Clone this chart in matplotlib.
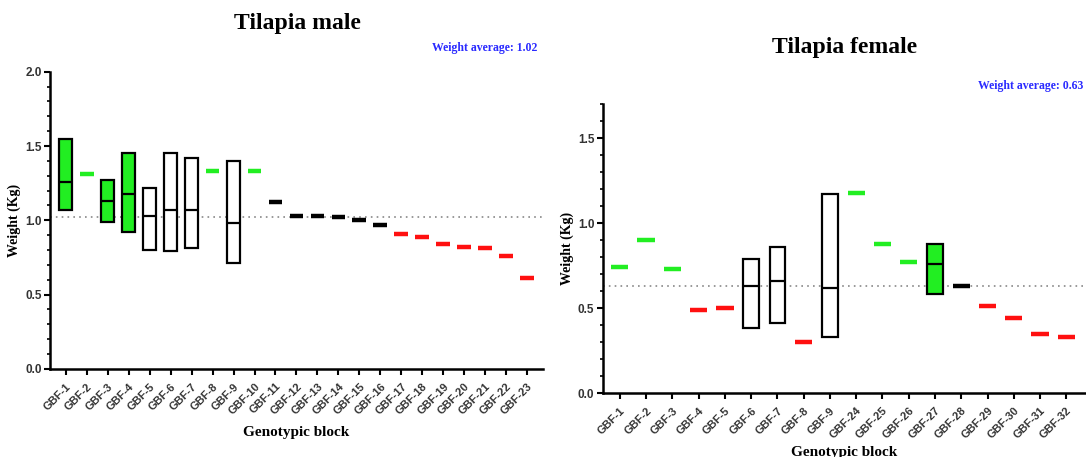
import matplotlib
matplotlib.use("Agg")
import matplotlib.pyplot as plt
from matplotlib.ticker import MultipleLocator

# ---- data ----
male_labels = ["GBF-1", "GBF-2", "GBF-3", "GBF-4", "GBF-5", "GBF-6", "GBF-7", "GBF-8",
               "GBF-9", "GBF-10", "GBF-11", "GBF-12", "GBF-13", "GBF-14", "GBF-15",
               "GBF-16", "GBF-17", "GBF-18", "GBF-19", "GBF-20", "GBF-21", "GBF-22", "GBF-23"]
male_mid = [1.26, 1.31, 1.13, 1.18, 1.03, 1.07, 1.07, 1.33, 0.98, 1.33, 1.12, 1.03,
            1.03, 1.02, 1.00, 0.97, 0.91, 0.89, 0.84, 0.82, 0.81, 0.76, 0.61]
male_low = [1.07, None, 0.99, 0.92, 0.80, 0.79, 0.81, None, 0.71] + [None] * 14
male_high = [1.55, None, 1.27, 1.45, 1.22, 1.45, 1.42, None, 1.40] + [None] * 14
male_group = ["g", "g", "g", "g", "w", "w", "w", "g", "w", "g",
              "k", "k", "k", "k", "k", "k",
              "r", "r", "r", "r", "r", "r", "r"]
male_avg = 1.02

female_labels = ["GBF-1", "GBF-2", "GBF-3", "GBF-4", "GBF-5", "GBF-6", "GBF-7", "GBF-8",
                 "GBF-9", "GBF-24", "GBF-25", "GBF-26", "GBF-27", "GBF-28", "GBF-29",
                 "GBF-30", "GBF-31", "GBF-32"]
female_mid = [0.74, 0.90, 0.73, 0.49, 0.50, 0.63, 0.66, 0.30, 0.62,
              1.18, 0.88, 0.77, 0.76, 0.63, 0.51, 0.44, 0.35, 0.33]
female_low = [None, None, None, None, None, 0.38, 0.41, None, 0.33,
              None, None, None, 0.58, None, None, None, None, None]
female_high = [None, None, None, None, None, 0.79, 0.86, None, 1.17,
               None, None, None, 0.88, None, None, None, None, None]
female_group = ["g", "g", "g", "r", "r", "w", "w", "r", "w",
                "g", "g", "g", "g", "k", "r", "r", "r", "r"]
female_avg = 0.63

colors = {"g": "#22ee22", "r": "#ff1010", "k": "#000000", "w": "white"}
serif = ["Liberation Serif", "DejaVu Serif"]
sans = ["Liberation Sans", "DejaVu Sans"]


def draw(ax, labels, mid, low, high, group, avg, ymax, xlim, xpad):
    x = list(range(len(labels)))
    for i in x:
        c = colors[group[i]]
        if low[i] is None:
            ax.hlines(mid[i], i - 0.33, i + 0.33, color=c, lw=3.2, zorder=3)
        else:
            ax.bar(i, high[i] - low[i], bottom=low[i], width=0.6, facecolor=c,
                   edgecolor="black", linewidth=1.6, zorder=3)
            ax.hlines(mid[i], i - 0.3, i + 0.3, color="black", lw=1.6, zorder=4)
    ax.axhline(avg, color="#888888", ls=(0, (1, 2.5)), lw=1.2, zorder=1)

    ax.set_xlim(*xlim)
    ax.set_ylim(0, ymax)
    ax.set_xticks(x)
    ax.set_xticklabels(labels, rotation=45, ha="right", rotation_mode="anchor",
                       family=sans, fontweight="bold", fontsize=8, color="#333333")
    ax.yaxis.set_major_locator(MultipleLocator(0.5))
    ax.yaxis.set_minor_locator(MultipleLocator(0.1))
    for lab in ax.get_yticklabels():
        lab.set_family(sans)
        lab.set_fontweight("bold")
        lab.set_fontsize(8.5)
        lab.set_color("#333333")
    ax.tick_params(axis="both", which="major", length=4, width=1.5, pad=2)
    ax.tick_params(axis="x", which="major", pad=5)
    ax.tick_params(axis="y", which="minor", length=2.5, width=1.2)
    for s in ["top", "right"]:
        ax.spines[s].set_visible(False)
    for s in ["left", "bottom"]:
        ax.spines[s].set_linewidth(1.8)
    ax.set_ylabel("Weight (Kg)", family=serif, fontweight="bold", fontsize=10, labelpad=3)
    ax.set_xlabel("Genotypic block", family=serif, fontweight="bold", fontsize=11, labelpad=xpad)


fig = plt.figure(figsize=(10.86, 4.57), dpi=100)
ax1 = fig.add_axes([0.046, 0.193, 0.454, 0.650])
ax2 = fig.add_axes([0.555, 0.140, 0.445, 0.632])

draw(ax1, male_labels, male_mid, male_low, male_high, male_group, male_avg, 2.0,
     (-0.75, 22.75), 7)
draw(ax2, female_labels, female_mid, female_low, female_high, female_group, female_avg, 1.7,
     (-0.65, 17.75), 4)

fig.text(0.274, 0.948, "Tilapia male", family=serif, fontweight="bold", fontsize=17,
         ha="center", va="center")
fig.text(0.495, 0.895, "Weight average: 1.02", family=serif, fontweight="bold", fontsize=8.5,
         color="#2a2aff", ha="right", va="center")
fig.text(0.778, 0.895, "Tilapia female", family=serif, fontweight="bold", fontsize=17,
         ha="center", va="center")
fig.text(0.998, 0.812, "Weight average: 0.63", family=serif, fontweight="bold", fontsize=8.5,
         color="#2a2aff", ha="right", va="center")

fig.savefig("out.png", dpi=100)
